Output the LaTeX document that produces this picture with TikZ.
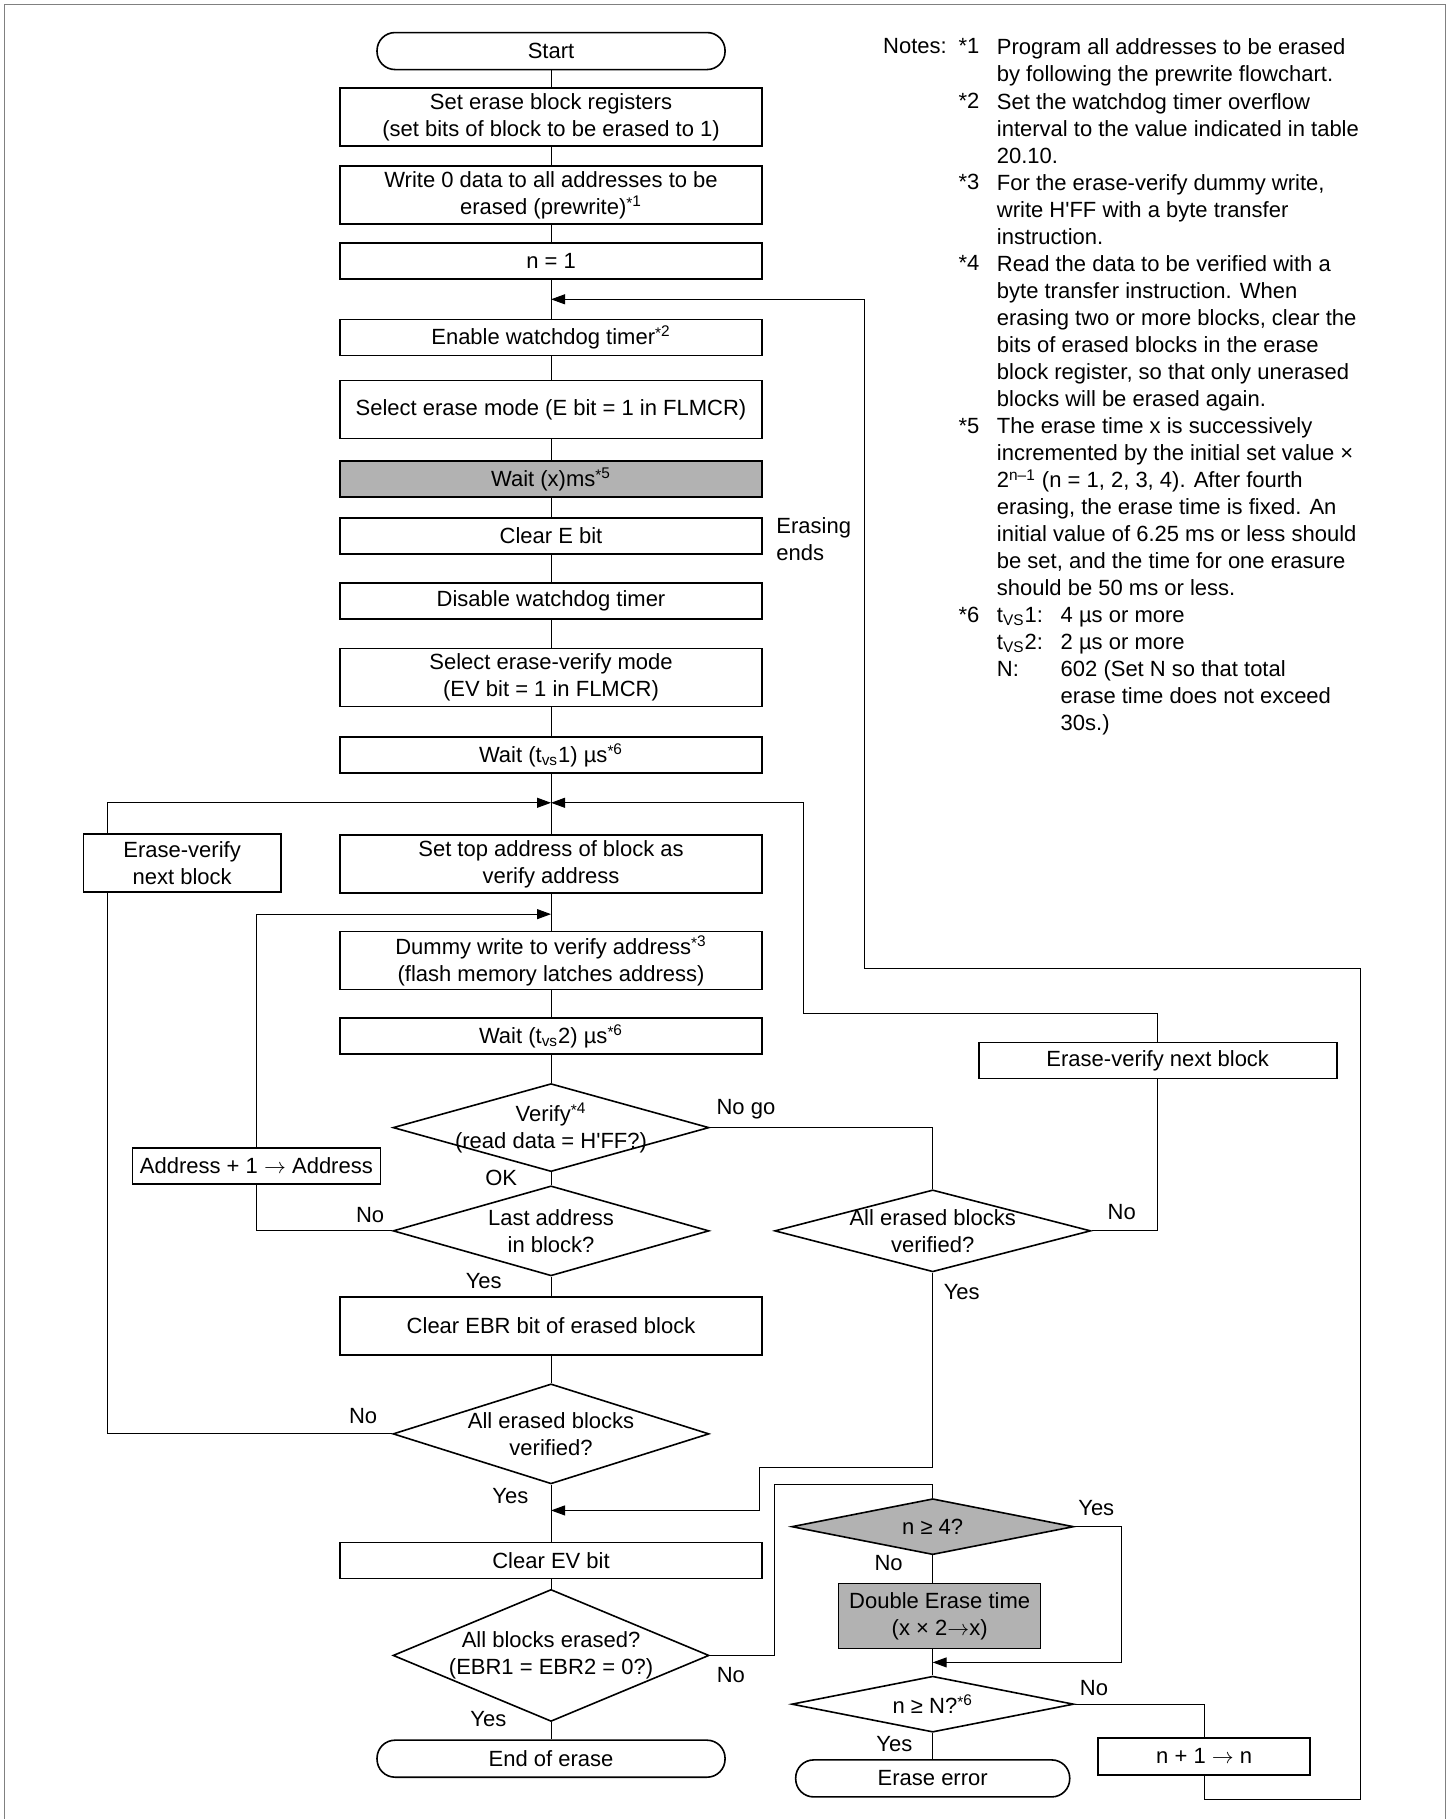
\documentclass[tikz,border=0pt]{standalone}
\usepackage{fontspec}
\setmainfont{Liberation Sans}
\usepackage{tikz}
\usetikzlibrary{arrows.meta, shapes.geometric}
\definecolor{shade}{gray}{0.7}
\newcommand{\fnote}[1]{\textsuperscript{\raisebox{-0.25ex}{*}#1}}
\newcommand{\ra}{\ensuremath{\rightarrow}}
\tikzset{
  box/.style={draw, rectangle, line width=0.8pt, fill=white, minimum width=211pt, minimum height=18pt, inner sep=1pt, align=center},
  tallbox/.style={box, minimum height=29pt},
  term/.style={box, rounded corners=9pt, minimum width=174pt, minimum height=18.5pt},
  decision/.style={draw, diamond, line width=0.8pt, fill=white, inner sep=0pt, minimum width=158pt, minimum height=44pt},
  dtext/.style={align=center, inner sep=0pt},
  lbl/.style={inner sep=0pt},
  note/.style={anchor=north west, inner sep=0pt, align=left},
  flow/.style={line width=0.5pt},
  arr/.style={flow, -{Triangle[length=7pt, width=5pt]}}
}

\begin{document}
\begin{tikzpicture}[x=0.58pt, y=-0.58pt, font=\fontsize{11}{13.5}\selectfont]
  \useasboundingbox (0,0) rectangle (1250,1568);
  \draw[gray, line width=0.6pt] (4,1568) -- (4,4) -- (1246,4) -- (1246,1568);

  \node[term] (start) at (475,44) {Start};
  \node[tallbox] (ebr) at (475,101) {Set erase block registers\\(set bits of block to be erased to 1)};
  \node[tallbox] (prew) at (475,168) {Write 0 data to all addresses to be\\erased (prewrite)\fnote{1}};
  \node[box] (n1) at (475,225) {n = 1};
  \node[box] (wdt) at (475,291) {Enable watchdog timer\fnote{2}};
  \node[tallbox] (emode) at (475,353) {Select erase mode (E bit = 1 in FLMCR)};
  \node[box, fill=shade] (wx) at (475,413) {Wait (x)ms\fnote{5}};
  \node[box] (clre) at (475,462) {Clear E bit};
  \node[lbl, anchor=west, align=left] (ends) at (669,465) {Erasing\\ends};
  \node[box] (dwdt) at (475,518) {Disable watchdog timer};
  \node[tallbox] (evmode) at (475,584) {Select erase-verify mode\\(EV bit = 1 in FLMCR)};
  \node[box] (wt1) at (475,651) {Wait (t\textsubscript{vs}1) µs\fnote{6}};
  \node[tallbox] (topa) at (475,745) {Set top address of block as\\verify address};
  \node[tallbox] (dummy) at (475,828) {Dummy write to verify address\fnote{3}\\(flash memory latches address)};
  \node[box] (wt2) at (475,893) {Wait (t\textsubscript{vs}2) µs\fnote{6}};
  \node[decision, label={[dtext]center:Verify\fnote{4}\\(read data = H\textquotesingle FF?)}] (verify) at (475,972) {};
  \node[decision, minimum height=45pt, label={[dtext]center:Last address\\in block?}] (last) at (475,1061) {};
  \node[tallbox] (clrebr) at (475,1143) {Clear EBR bit of erased block};
  \node[decision, minimum height=50pt, label={[dtext]center:All erased blocks\\verified?}] (allv) at (475,1236) {};
  \node[box] (clrev) at (475,1345) {Clear EV bit};
  \node[decision, minimum height=66pt, label={[dtext]center:All blocks erased?\\(EBR1 = EBR2 = 0?)}] (allb) at (475,1427) {};
  \node[term] (fin) at (475,1516) {End of erase};

  \node[tallbox, minimum width=98.6pt] (evnl) at (157,744) {Erase-verify\\next block};
  \node[box, minimum width=124pt] (addr) at (221,1005) {Address + 1 \ra{} Address};

  \node[box, minimum width=179pt] (evnr) at (998,914) {Erase-verify next block};
  \node[decision, minimum height=41pt, label={[dtext]center:All erased blocks\\verified?}] (allv2) at (804,1061) {};
  \node[decision, fill=shade, minimum width=141pt, minimum height=28pt, label={[dtext]center:n ≥ 4?}] (n4) at (804,1316) {};
  \node[box, fill=shade, minimum width=101pt, minimum height=32.5pt] (dbl) at (810,1393) {Double Erase time\\(x × 2\ra x)};
  \node[decision, minimum width=141pt, minimum height=28pt, label={[dtext]center:n ≥ N?\fnote{6}}] (nN) at (804,1469) {};
  \node[term, minimum width=137pt] (err) at (804,1533) {Erase error};
  \node[box, minimum width=106pt, minimum height=18.5pt] (ninc) at (1038,1514) {n + 1 \ra{} n};

  \coordinate (j1) at (475,258);
  \coordinate (j2) at (475,692);
  \coordinate (j3) at (475,788);
  \coordinate (j4) at (475,1302);
  \coordinate (j5) at (804,1433);
  \coordinate (lx) at (93,692);
  \coordinate (rx) at (693,874);
  \coordinate (yx) at (655,1265);
  \coordinate (bx) at (668,1280);
  \coordinate (nx) at (967,1433);
  \coordinate (ox) at (1173,1551);
  \coordinate (ux) at (745,835);

  \draw[flow] (start) -- (ebr) -- (prew) -- (n1) -- (wdt) -- (emode) -- (wx) -- (clre) -- (dwdt) -- (evmode) -- (wt1) -- (topa) -- (dummy) -- (wt2) -- (verify) -- (last) -- (clrebr) -- (allv) -- (clrev) -- (allb) -- (fin);
  \draw[arr] (ninc.south) |- (ox) |- (ux) |- (j1);
  \draw[flow] (allv.west) -| (evnl.south -| lx);
  \draw[arr] (evnl.north -| lx) |- (j2);
  \draw[flow] (allv2.east) -| (evnr.south);
  \draw[arr] (evnr.north) |- (rx) |- (j2);
  \draw[flow] (verify.east) -| (allv2.north);
  \draw[flow] (last.west) -| (addr.south);
  \draw[arr] (addr.north) |- (j3);
  \draw[arr] (allv2.south) |- (yx) |- (j4);
  \draw[flow] (allb.east) -| (bx) -| (n4.north);
  \draw[flow] (n4.south) -- (n4.south |- dbl.north);
  \draw[flow] (dbl.south -| nN.north) -- (nN.north);
  \draw[arr] (n4.east) -| (nx) -- (j5);
  \draw[flow] (nN) -- (err);
  \draw[flow] (nN.east) -| (ninc.north);

  \node[lbl] (lnogo) at (643,956) {No go};
  \node[lbl] (lok) at (432,1015) {OK};
  \node[lbl] (lno1) at (319,1047) {No};
  \node[lbl] (lyes1) at (417,1104) {Yes};
  \node[lbl] (lno2) at (313,1221) {No};
  \node[lbl] (lyes2) at (440,1290) {Yes};
  \node[lbl] (lno3) at (630,1444) {No};
  \node[lbl] (lyes3) at (421,1482) {Yes};
  \node[lbl] (lno4) at (967,1045) {No};
  \node[lbl] (lyes4) at (829,1114) {Yes};
  \node[lbl] (lyes5) at (945,1300) {Yes};
  \node[lbl] (lno5) at (766,1347) {No};
  \node[lbl] (lno6) at (943,1455) {No};
  \node[lbl] (lyes6) at (771,1503) {Yes};

  \node[note] (notes) at (761,33) {Notes:};
  \node[note] (s1) at (826,33) {*1};
  \node[note] (t1) at (859,33) {Program all addresses to be erased\\by following the prewrite flowchart.};
  \node[note] (s2) at (826,80) {*2};
  \node[note] (t2) at (859,80) {Set the watchdog timer overflow\\interval to the value indicated in table\\20.10.};
  \node[note] (s3) at (826,150) {*3};
  \node[note] (t3) at (859,150) {For the erase-verify dummy write,\\write H\textquotesingle FF with a byte transfer\\instruction.};
  \node[note] (s4) at (826,220) {*4};
  \node[note] (t4) at (859,220) {Read the data to be verified with a\\byte transfer instruction. When\\erasing two or more blocks, clear the\\bits of erased blocks in the erase\\block register, so that only unerased\\blocks will be erased again.};
  \node[note] (s5) at (826,360) {*5};
  \node[note] (t5) at (859,360) {The erase time x is successively\\incremented by the initial set value ×\\2\textsuperscript{n–1} (n = 1, 2, 3, 4). After fourth\\erasing, the erase time is fixed. An\\initial value of 6.25 ms or less should\\be set, and the time for one erasure\\should be 50 ms or less.};
  \node[note] (s6) at (826,523) {*6};
  \node[note] (t6a) at (859,523) {t\textsubscript{VS}1:\\t\textsubscript{VS}2:\\N:};
  \node[note] (t6b) at (914,523) {4 µs or more\\2 µs or more\\602 (Set N so that total\\erase time does not exceed\\30s.)};
\end{tikzpicture}
\end{document}
